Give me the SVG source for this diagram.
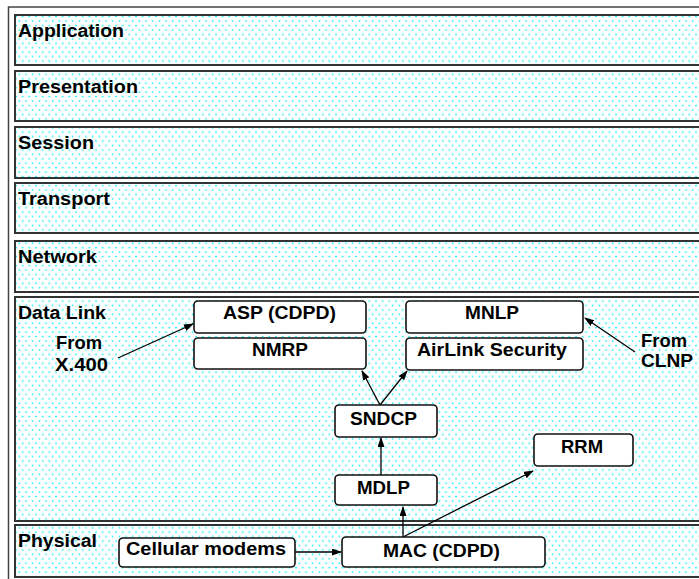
<svg xmlns="http://www.w3.org/2000/svg" width="699" height="579" viewBox="0 0 699 579">
<defs>
<pattern id="dots" x="15" y="15" width="6.667" height="8.889" patternUnits="userSpaceOnUse">
<rect x="0" y="0" width="6.667" height="8.889" fill="#ffffff"/>
<circle cx="1" cy="1.5" r="0.85" fill="#00f0f0"/>
<circle cx="4.333" cy="5.944" r="0.85" fill="#00f0f0"/>
</pattern>
<marker id="ah" markerUnits="userSpaceOnUse" markerWidth="10" markerHeight="8" refX="9" refY="3.5" orient="auto">
<path d="M0,0 L10,3.5 L0,7 z" fill="#000"/>
</marker>
</defs>
<style>
.layer{fill:url(#dots);stroke:#333;stroke-width:2}
.node{fill:#fff;stroke:#111;stroke-width:1.6}
.t{font-family:"Liberation Sans",Arial,sans-serif;font-weight:bold;font-size:17.5px;fill:#000}
.c{stroke:#000;stroke-width:1.3;fill:none;marker-end:url(#ah)}
</style>
<rect x="0" y="0" width="699" height="579" fill="#fff"/>
<path d="M8.5,579 L8.5,7 L699,7" fill="none" stroke="#444" stroke-width="1.5"/>

<g id="layer-application"><rect class="layer" x="15" y="15" width="700" height="50"/><text class="t" x="18" y="37" textLength="106" lengthAdjust="spacingAndGlyphs">Application</text></g>
<g id="layer-presentation"><rect class="layer" x="15" y="71" width="700" height="50"/><text class="t" x="18" y="93" textLength="120" lengthAdjust="spacingAndGlyphs">Presentation</text></g>
<g id="layer-session"><rect class="layer" x="15" y="127" width="700" height="51"/><text class="t" x="18" y="149" textLength="76" lengthAdjust="spacingAndGlyphs">Session</text></g>
<g id="layer-transport"><rect class="layer" x="15" y="183" width="700" height="50"/><text class="t" x="18" y="205" textLength="92" lengthAdjust="spacingAndGlyphs">Transport</text></g>
<g id="layer-network"><rect class="layer" x="15" y="241" width="700" height="51"/><text class="t" x="18" y="263" textLength="79" lengthAdjust="spacingAndGlyphs">Network</text></g>
<g id="layer-datalink"><rect class="layer" x="15" y="297" width="700" height="224"/><text class="t" x="18" y="319" textLength="88" lengthAdjust="spacingAndGlyphs">Data Link</text>
<text class="t" x="56" y="349" textLength="46" lengthAdjust="spacingAndGlyphs">From</text>
<text class="t" x="55" y="371" textLength="53" lengthAdjust="spacingAndGlyphs">X.400</text>
<text class="t" x="641" y="347" textLength="46" lengthAdjust="spacingAndGlyphs">From</text>
<text class="t" x="641" y="367" textLength="52" lengthAdjust="spacingAndGlyphs">CLNP</text>
</g>
<g id="layer-physical"><rect class="layer" x="15" y="525" width="700" height="52"/><text class="t" x="18" y="547" textLength="79" lengthAdjust="spacingAndGlyphs">Physical</text></g>

<g id="connectors">
<line class="c" x1="118" y1="358" x2="193" y2="324"/>
<line class="c" x1="635" y1="352" x2="585" y2="318"/>
<line class="c" x1="380" y1="405" x2="362" y2="371"/>
<line class="c" x1="380" y1="405" x2="407" y2="371"/>
<line class="c" x1="381" y1="475" x2="381" y2="438"/>
<line class="c" x1="403" y1="537" x2="403" y2="507"/>
<line class="c" x1="403" y1="537" x2="533" y2="471"/>
<line class="c" x1="295" y1="552" x2="341" y2="552"/>
</g>

<g id="node-asp"><rect class="node" x="194" y="301" width="172" height="32" rx="4"/><text class="t" x="223" y="319" textLength="113" lengthAdjust="spacingAndGlyphs">ASP (CDPD)</text></g>
<g id="node-nmrp"><rect class="node" x="194" y="338" width="172" height="31" rx="4"/><text class="t" x="252" y="356" textLength="56" lengthAdjust="spacingAndGlyphs">NMRP</text></g>
<g id="node-mnlp"><rect class="node" x="406" y="301" width="177" height="32" rx="4"/><text class="t" x="465" y="319" textLength="54" lengthAdjust="spacingAndGlyphs">MNLP</text></g>
<g id="node-airlink"><rect class="node" x="406" y="338" width="177" height="32" rx="4"/><text class="t" x="417" y="356" textLength="150" lengthAdjust="spacingAndGlyphs">AirLink Security</text></g>
<g id="node-sndcp"><rect class="node" x="335" y="405" width="102" height="32" rx="4"/><text class="t" x="350" y="425" textLength="67" lengthAdjust="spacingAndGlyphs">SNDCP</text></g>
<g id="node-mdlp"><rect class="node" x="335" y="475" width="102" height="30" rx="4"/><text class="t" x="357" y="494" textLength="53" lengthAdjust="spacingAndGlyphs">MDLP</text></g>
<g id="node-rrm"><rect class="node" x="534" y="434" width="99" height="32" rx="4"/><text class="t" x="561" y="453" textLength="42" lengthAdjust="spacingAndGlyphs">RRM</text></g>
<g id="node-mac"><rect class="node" x="342" y="537" width="203" height="30" rx="4"/><text class="t" x="383" y="557" textLength="117" lengthAdjust="spacingAndGlyphs">MAC (CDPD)</text></g>
<g id="node-cellular"><rect class="node" x="119" y="538" width="176" height="29" rx="4"/><text class="t" x="126" y="555" textLength="160" lengthAdjust="spacingAndGlyphs">Cellular modems</text></g>
</svg>
